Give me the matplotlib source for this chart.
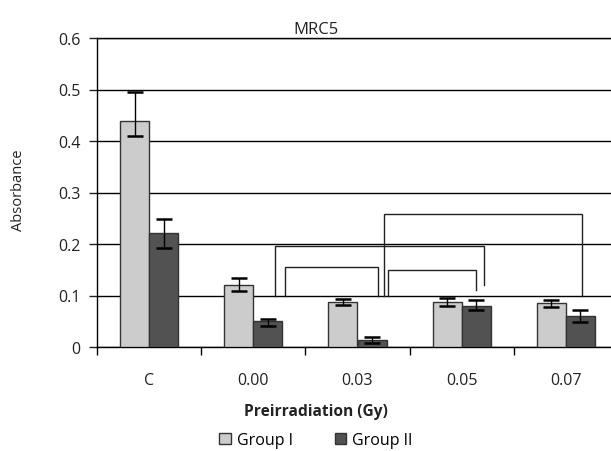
import numpy as np
import matplotlib
matplotlib.use("Agg")
import matplotlib.pyplot as plt
from matplotlib.patches import Patch

plt.rcParams["font.family"] = ["Open Sans", "DejaVu Sans"]

# data
categories = ["C", "0.00", "0.03", "0.05", "0.07"]
group1 = [0.439, 0.120, 0.088, 0.087, 0.086]
group2 = [0.221, 0.051, 0.014, 0.079, 0.060]
group1_err_low = [0.029, 0.011, 0.006, 0.007, 0.008]
group1_err_high = [0.057, 0.014, 0.006, 0.009, 0.006]
group2_err_low = [0.029, 0.011, 0.006, 0.008, 0.012]
group2_err_high = [0.028, 0.004, 0.005, 0.013, 0.011]

# significance brackets: x-left, x-right, top, left leg bottom, right leg bottom
brackets = [
    (1.21, 3.215, 0.197, 0.10, 0.121),
    (1.303, 2.193, 0.156, 0.10, 0.10),
    (2.289, 3.133, 0.149, 0.10, 0.11),
    (2.25, 4.159, 0.259, 0.10, 0.10),
]

fig = plt.figure(figsize=(6.11, 4.52), dpi=100)
ax = fig.add_axes([97 / 611, 1 - 348 / 452, 521 / 611, 309 / 452])

x = np.arange(len(categories))
w = 0.28
err_kw = dict(ecolor="black", elinewidth=1.0, capsize=5.5, capthick=1.8)
ax.bar(x - w / 2, group1, w, color="#cccccc", edgecolor="#333333", linewidth=1.0,
       yerr=[group1_err_low, group1_err_high], error_kw=err_kw, zorder=3, label="Group I")
ax.bar(x + w / 2, group2, w, color="#525252", edgecolor="#333333", linewidth=1.0,
       yerr=[group2_err_low, group2_err_high], error_kw=err_kw, zorder=3, label="Group II")

for x0, x1, top, b0, b1 in brackets:
    ax.plot([x0, x0, x1, x1], [b0, top, top, b1], color="#222222", lw=1.0, zorder=2,
            solid_joinstyle="miter")

ax.set_xlim(-0.5, 4.5)
ax.set_ylim(0, 0.6)
ax.set_yticks(np.arange(0, 0.61, 0.1))
ax.set_yticklabels(["0", "0.1", "0.2", "0.3", "0.4", "0.5", "0.6"], fontsize=11.5)
ax.yaxis.grid(True, color="black", lw=1.0, zorder=0)
ax.set_axisbelow(True)

ax.set_xticks(np.arange(-0.5, 4.6, 1.0))
ax.set_xticklabels([])
ax.set_xticks(x, minor=True)
ax.set_xticklabels(categories, minor=True, fontsize=11.5)
ax.tick_params(axis="x", which="minor", length=0, pad=18)
ax.tick_params(axis="both", which="major", length=6, width=1.0, color="black", direction="out")
ax.tick_params(axis="y", pad=6, colors="#222222")
ax.tick_params(axis="x", which="minor", colors="#222222")

ax.spines["right"].set_visible(False)
for s in ["left", "bottom", "top"]:
    ax.spines[s].set_color("black")
    ax.spines[s].set_linewidth(1.0)

fig.text(316 / 611, 1 - 30 / 452, "MRC5", ha="center", va="center", fontsize=12, color="#222222")
fig.text(316 / 611, 1 - 412 / 452, "Preirradiation (Gy)", ha="center", va="center",
         fontsize=11.2, fontweight="bold", color="#222222")
fig.text(19 / 611, 1 - 190 / 452, "Absorbance", ha="center", va="center", rotation=90,
         fontsize=10.5, color="#222222")

handles = [Patch(facecolor="#cccccc", edgecolor="#333333", label="Group I"),
           Patch(facecolor="#525252", edgecolor="#333333", label="Group II")]
fig.legend(handles=handles, loc="center", bbox_to_anchor=(316 / 611, 1 - 441 / 452), ncol=2,
           frameon=False, fontsize=11.5, handlelength=0.7, handleheight=0.7,
           handletextpad=0.4, columnspacing=2.6)

fig.savefig("out.png", dpi=100)
